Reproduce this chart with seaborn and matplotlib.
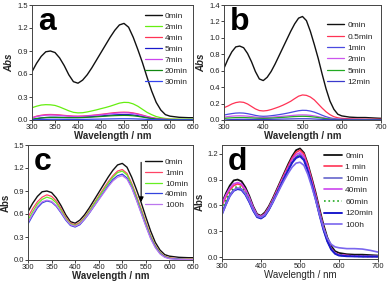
import numpy as np
import pandas as pd
import matplotlib
matplotlib.use("Agg")
import matplotlib.pyplot as plt
import seaborn as sns

sns.set_theme(style="ticks")
plt.rcParams['font.family'] = ['Liberation Sans', 'DejaVu Sans']

# ---------------- data ----------------
WL = [300, 310, 320, 330, 340, 350, 360, 370, 380, 390, 400, 410, 420, 430, 440,
      450, 460, 470, 480, 490, 500, 510, 520, 530, 540, 550, 560, 570, 580, 590,
      600, 620, 640, 660, 680, 700]

BLACK_0 = [0.63, 0.74, 0.83, 0.89, 0.90, 0.88, 0.81, 0.71, 0.59, 0.50, 0.48, 0.52, 0.59, 0.68, 0.78,
           0.88, 0.98, 1.08, 1.17, 1.24, 1.26, 1.21, 1.08, 0.92, 0.75, 0.56, 0.38, 0.23, 0.13, 0.07,
           0.05, 0.035, 0.03, 0.03, 0.025, 0.02]

# panel a
A_LABELS = ["0min", "2min", "4min", "5min", "7min", "20min", "30min"]
A_COLORS = ["#111111", "#66ee11", "#ff3355", "#1a1acc", "#cc44ee", "#118811", "#3344ee"]
A_2 = [0.16, 0.18, 0.195, 0.20, 0.198, 0.19, 0.17, 0.145, 0.12, 0.10, 0.093, 0.095, 0.105, 0.118, 0.132,
       0.148, 0.163, 0.18, 0.20, 0.22, 0.23, 0.228, 0.21, 0.18, 0.14, 0.10, 0.07, 0.045, 0.03, 0.02,
       0.015, 0.012, 0.01, 0.01, 0.01, 0.01]
A_4 = [0.03, 0.05, 0.062, 0.07, 0.072, 0.07, 0.066, 0.06, 0.055, 0.051, 0.05, 0.052, 0.056, 0.061, 0.067,
       0.074, 0.081, 0.089, 0.096, 0.10, 0.102, 0.10, 0.092, 0.08, 0.064, 0.047, 0.032, 0.021, 0.013, 0.009,
       0.007, 0.006, 0.005, 0.005, 0.005, 0.005]
A_5 = [0.0, 0.015, 0.026, 0.033, 0.036, 0.036, 0.035, 0.034, 0.034, 0.035, 0.036, 0.038, 0.041, 0.045, 0.049,
       0.053, 0.058, 0.063, 0.067, 0.07, 0.071, 0.07, 0.065, 0.057, 0.046, 0.034, 0.023, 0.015, 0.009, 0.006,
       0.004, 0.003, 0.003, 0.003, 0.003, 0.003]
A_7 = [0.025, 0.045, 0.056, 0.063, 0.065, 0.064, 0.06, 0.055, 0.05, 0.047, 0.046, 0.048, 0.052, 0.057, 0.062,
       0.068, 0.075, 0.082, 0.088, 0.092, 0.094, 0.092, 0.085, 0.073, 0.058, 0.043, 0.029, 0.019, 0.012, 0.008,
       0.006, 0.005, 0.005, 0.005, 0.005, 0.005]
A_20 = [0.01, 0.02, 0.027, 0.031, 0.033, 0.033, 0.032, 0.031, 0.03, 0.03, 0.03, 0.032, 0.035, 0.038, 0.042,
        0.046, 0.05, 0.054, 0.057, 0.059, 0.06, 0.059, 0.055, 0.048, 0.039, 0.029, 0.02, 0.013, 0.008, 0.005,
        0.004, 0.003, 0.003, 0.003, 0.003, 0.003]
A_30 = [0.0, 0.004, 0.006, 0.008, 0.009, 0.009, 0.009, 0.008, 0.008, 0.008, 0.008, 0.008, 0.009, 0.01, 0.011,
        0.012, 0.013, 0.014, 0.015, 0.016, 0.016, 0.016, 0.015, 0.013, 0.011, 0.008, 0.006, 0.004, 0.003, 0.002,
        0.002, 0.002, 0.002, 0.002, 0.002, 0.002]

# panel b
B_LABELS = ["0min", "0.5min", "1min", "2min", "5min", "12min"]
B_COLORS = ["#111111", "#ff3355", "#4a4ae0", "#cc55ee", "#22aa22", "#3a3acc"]
B_05 = [0.15, 0.17, 0.195, 0.212, 0.22, 0.215, 0.195, 0.165, 0.135, 0.115, 0.11, 0.115, 0.127, 0.143, 0.16,
        0.18, 0.203, 0.228, 0.26, 0.29, 0.305, 0.30, 0.28, 0.245, 0.195, 0.145, 0.10, 0.065, 0.04, 0.027,
        0.02, 0.015, 0.012, 0.01, 0.01, 0.01]
B_1 = [0.06, 0.07, 0.078, 0.084, 0.086, 0.084, 0.077, 0.067, 0.056, 0.048, 0.045, 0.047, 0.052, 0.058, 0.065,
       0.073, 0.082, 0.092, 0.103, 0.113, 0.118, 0.117, 0.109, 0.096, 0.078, 0.058, 0.04, 0.026, 0.017, 0.012,
       0.009, 0.007, 0.006, 0.005, 0.005, 0.005]
B_2 = [0.035, 0.042, 0.047, 0.05, 0.051, 0.05, 0.047, 0.042, 0.036, 0.032, 0.03, 0.031, 0.034, 0.038, 0.042,
       0.046, 0.05, 0.054, 0.058, 0.061, 0.062, 0.061, 0.057, 0.05, 0.041, 0.031, 0.022, 0.015, 0.01, 0.007,
       0.005, 0.004, 0.004, 0.004, 0.004, 0.004]
B_5 = [0.02, 0.024, 0.027, 0.029, 0.03, 0.03, 0.028, 0.026, 0.023, 0.021, 0.02, 0.021, 0.023, 0.026, 0.029,
       0.032, 0.035, 0.039, 0.042, 0.044, 0.045, 0.044, 0.041, 0.036, 0.03, 0.023, 0.016, 0.011, 0.007, 0.005,
       0.004, 0.003, 0.003, 0.003, 0.003, 0.003]
B_12 = [0.0, 0.003, 0.005, 0.007, 0.008, 0.008, 0.008, 0.007, 0.007, 0.007, 0.007, 0.007, 0.008, 0.009, 0.01,
        0.011, 0.012, 0.013, 0.014, 0.015, 0.015, 0.015, 0.014, 0.012, 0.01, 0.008, 0.006, 0.004, 0.003, 0.002,
        0.002, 0.002, 0.002, 0.002, 0.002, 0.002]

# panel c
C_LABELS = ["0min", "1min", "10min", "40min", "100h"]
C_COLORS = ["#111111", "#ff4466", "#66ee22", "#3344dd", "#bb77ee"]
C_1 = [0.56, 0.67, 0.76, 0.82, 0.85, 0.83, 0.77, 0.67, 0.56, 0.48, 0.46, 0.49, 0.56, 0.645, 0.74,
       0.835, 0.93, 1.02, 1.10, 1.16, 1.18, 1.13, 1.00, 0.84, 0.67, 0.49, 0.32, 0.19, 0.10, 0.05,
       0.03, 0.015, 0.01, 0.01, 0.01, 0.01]
C_10 = [0.52, 0.63, 0.73, 0.79, 0.82, 0.80, 0.745, 0.65, 0.545, 0.47, 0.45, 0.48, 0.55, 0.635, 0.73,
        0.82, 0.91, 1.00, 1.08, 1.14, 1.16, 1.11, 0.98, 0.82, 0.65, 0.47, 0.31, 0.18, 0.095, 0.045,
        0.025, 0.012, 0.008, 0.008, 0.008, 0.008]
C_40 = [0.47, 0.58, 0.68, 0.745, 0.77, 0.755, 0.70, 0.615, 0.52, 0.45, 0.43, 0.46, 0.53, 0.61, 0.70,
        0.79, 0.88, 0.97, 1.05, 1.10, 1.12, 1.07, 0.95, 0.79, 0.62, 0.45, 0.29, 0.17, 0.085, 0.04,
        0.02, 0.01, 0.005, 0.005, 0.005, 0.005]
C_100H = [0.49, 0.60, 0.70, 0.76, 0.78, 0.765, 0.71, 0.625, 0.53, 0.46, 0.44, 0.47, 0.535, 0.615, 0.70,
          0.785, 0.87, 0.955, 1.03, 1.08, 1.10, 1.055, 0.94, 0.78, 0.61, 0.44, 0.28, 0.16, 0.08, 0.035,
          0.018, 0.008, 0.005, 0.005, 0.005, 0.005]

# panel d
D_LABELS = ["0min", "1 min", "10min", "40min", "60min", "120min", "100h"]
D_COLORS = ["#111111", "#ff3355", "#6666cc", "#cc44ee", "#22aa22", "#1a1acc", "#7a66ee"]
D_1 = [0.60, 0.70, 0.78, 0.83, 0.85, 0.835, 0.775, 0.68, 0.57, 0.485, 0.47, 0.505, 0.575, 0.665, 0.765,
       0.865, 0.965, 1.06, 1.15, 1.215, 1.24, 1.195, 1.065, 0.90, 0.725, 0.53, 0.35, 0.20, 0.10, 0.05,
       0.03, 0.02, 0.015, 0.012, 0.01, 0.01]
D_10 = [0.52, 0.63, 0.72, 0.78, 0.80, 0.79, 0.735, 0.645, 0.545, 0.47, 0.45, 0.485, 0.55, 0.64, 0.735,
        0.83, 0.925, 1.015, 1.10, 1.165, 1.19, 1.145, 1.02, 0.86, 0.69, 0.50, 0.33, 0.19, 0.095, 0.045,
        0.025, 0.015, 0.012, 0.01, 0.01, 0.01]
D_40 = [0.62, 0.72, 0.80, 0.85, 0.865, 0.85, 0.785, 0.69, 0.575, 0.49, 0.47, 0.50, 0.57, 0.66, 0.755,
        0.855, 0.95, 1.04, 1.13, 1.19, 1.21, 1.165, 1.04, 0.88, 0.71, 0.52, 0.34, 0.20, 0.10, 0.05,
        0.03, 0.02, 0.015, 0.012, 0.01, 0.01]
D_60 = [0.55, 0.66, 0.75, 0.80, 0.82, 0.81, 0.75, 0.66, 0.555, 0.475, 0.46, 0.49, 0.56, 0.65, 0.745,
        0.84, 0.935, 1.025, 1.11, 1.16, 1.18, 1.135, 1.01, 0.855, 0.685, 0.50, 0.33, 0.19, 0.095, 0.045,
        0.025, 0.015, 0.012, 0.01, 0.01, 0.01]
D_120 = [0.50, 0.61, 0.71, 0.77, 0.79, 0.78, 0.725, 0.64, 0.54, 0.465, 0.45, 0.48, 0.55, 0.635, 0.73,
         0.825, 0.92, 1.01, 1.095, 1.15, 1.17, 1.125, 1.00, 0.845, 0.675, 0.49, 0.32, 0.185, 0.09, 0.04,
         0.02, 0.012, 0.01, 0.008, 0.008, 0.008]
D_100H = [0.50, 0.61, 0.71, 0.775, 0.80, 0.79, 0.735, 0.65, 0.55, 0.475, 0.46, 0.49, 0.555, 0.635, 0.72,
          0.81, 0.895, 0.975, 1.045, 1.09, 1.10, 1.065, 0.96, 0.82, 0.665, 0.495, 0.34, 0.22, 0.15, 0.12,
          0.11, 0.10, 0.10, 0.095, 0.08, 0.06]

# ---------------- figure ----------------
W, H = 387, 283
fig = plt.figure(figsize=(W / 100, H / 100), dpi=100)
fig.patch.set_facecolor("white")


def make_axes(x0, x1, y0, y1):
    return fig.add_axes([x0 / W, 1 - y1 / H, (x1 - x0) / W, (y1 - y0) / H])


def style(ax, xlim, xticks, ylim, yticks, yfmt, xlabel_bold, ylabel_style, letter):
    ax.set_xlim(*xlim)
    ax.set_ylim(*ylim)
    ax.set_xticks(xticks)
    ax.set_yticks(yticks)
    ax.set_yticklabels([yfmt.format(v) for v in yticks])
    for s in ax.spines.values():
        s.set_visible(True)
        s.set_linewidth(0.7)
        s.set_color("#444444")
    ax.tick_params(direction="out", length=2, width=0.6, labelsize=5.5, pad=1, colors="#222222")
    ax.set_xlabel("Wavelength / nm", fontsize=7, fontweight="bold" if xlabel_bold else "normal", labelpad=0)
    ax.set_ylabel("Abs", fontsize=7, fontweight="bold", fontstyle=ylabel_style, labelpad=2)
    ax.text(0.035, 0.985, letter, transform=ax.transAxes, fontsize=23, fontweight="bold",
            va="top", ha="left", color="black")
    ax.set_facecolor("white")


def draw(ax, series, labels, colors, lws, styles=None):
    for i, (vals, lab, col) in enumerate(zip(series, labels, colors)):
        df = pd.DataFrame({"wl": WL, "abs": vals})
        ls = styles[i] if styles else "-"
        sns.lineplot(data=df, x="wl", y="abs", ax=ax, color=col, lw=lws[i], label=lab,
                     linestyle=ls, sort=False)


# panel a
axa = make_axes(32, 193, 5, 120)
draw(axa, [BLACK_0, A_2, A_4, A_5, A_7, A_20, A_30], A_LABELS, A_COLORS, [1.0] + [0.9] * 6)
style(axa, (300, 650), [300, 350, 400, 450, 500, 550, 600, 650], (0, 1.5),
      [0.0, 0.3, 0.6, 0.9, 1.2, 1.5], "{:.1f}", True, "italic", "a")
axa.legend(loc="upper right", bbox_to_anchor=(1.0, 0.985), frameon=False, fontsize=6,
           handlelength=2.0, handletextpad=0.4, labelspacing=0.38, borderaxespad=0.2)

# panel b
axb = make_axes(224, 381, 5, 120)
draw(axb, [BLACK_0, B_05, B_1, B_2, B_5, B_12], B_LABELS, B_COLORS, [1.0] + [0.9] * 5)
style(axb, (300, 700), [300, 400, 500, 600, 700], (0, 1.4),
      [0.0, 0.2, 0.4, 0.6, 0.8, 1.0, 1.2, 1.4], "{:.1f}", True, "italic", "b")
axb.legend(loc="upper right", bbox_to_anchor=(0.98, 0.9), frameon=False, fontsize=6,
           handlelength=2.0, handletextpad=0.4, labelspacing=0.42, borderaxespad=0.2)

# panel c
axc = make_axes(28, 193, 145, 260)
draw(axc, [BLACK_0, C_1, C_10, C_40, C_100H], C_LABELS, C_COLORS, [1.0] + [0.9] * 4)
style(axc, (300, 650), [300, 350, 400, 450, 500, 550, 600, 650], (0, 1.5),
      [0.0, 0.3, 0.6, 0.9, 1.2, 1.5], "{:.1f}", True, "normal", "c")
axc.legend(loc="upper right", bbox_to_anchor=(1.0, 0.93), frameon=False, fontsize=6,
           handlelength=2.0, handletextpad=0.4, labelspacing=0.36, borderaxespad=0.2)
axc.annotate("", xy=(540, 0.72), xytext=(540, 1.31),
             arrowprops=dict(arrowstyle="-|>", color="black", lw=0.8, mutation_scale=7))

# panel d
axd = make_axes(222, 378, 145, 259)
draw(axd, [BLACK_0, D_1, D_10, D_40, D_60, D_120, D_100H], D_LABELS, D_COLORS,
     [1.3, 1.2, 1.2, 1.2, 1.2, 1.4, 1.2], ["-", "-", "-", "-", ":", "-", "-"])
style(axd, (300, 700), [300, 400, 500, 600, 700], (-0.02, 1.30),
      [0.0, 0.3, 0.6, 0.9, 1.2], "{:.1f}", False, "normal", "d")
axd.legend(loc="upper right", bbox_to_anchor=(1.0, 0.985), frameon=False, fontsize=6,
           handlelength=2.2, handletextpad=0.4, labelspacing=0.45, borderaxespad=0.2)

fig.savefig("out.png", dpi=100, facecolor="white")
